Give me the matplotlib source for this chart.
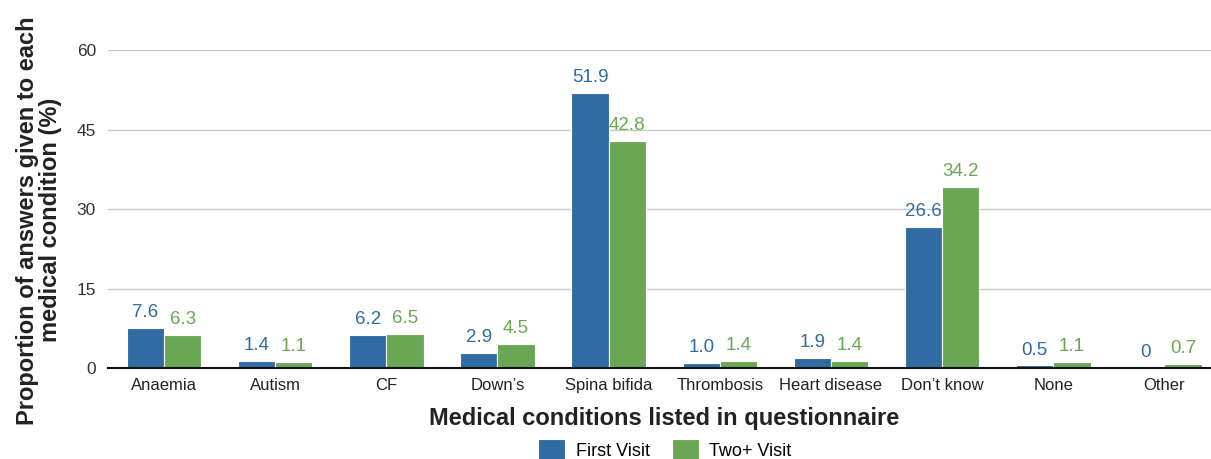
import matplotlib.pyplot as plt
import numpy as np

plt.rcParams['font.family'] = ['Liberation Sans', 'DejaVu Sans']

conditions = ['Anaemia', 'Autism', 'CF', 'Down’s', 'Spina bifida', 'Thrombosis',
              'Heart disease', 'Don’t know', 'None', 'Other']
first_visit = [7.6, 1.4, 6.2, 2.9, 51.9, 1.0, 1.9, 26.6, 0.5, 0]
two_plus_visit = [6.3, 1.1, 6.5, 4.5, 42.8, 1.4, 1.4, 34.2, 1.1, 0.7]
first_labels = ['7.6', '1.4', '6.2', '2.9', '51.9', '1.0', '1.9', '26.6', '0.5', '0']
two_labels = ['6.3', '1.1', '6.5', '4.5', '42.8', '1.4', '1.4', '34.2', '1.1', '0.7']

blue = '#306ba3'
green = '#6aa754'

fig = plt.figure(figsize=(12.11, 4.59), dpi=100)
ax = fig.add_axes([0.0895, 0.198, 0.918, 0.693])

x = np.arange(len(conditions))
w = 0.335
b1 = ax.bar(x - w / 2, first_visit, w, color=blue, edgecolor='white', linewidth=0.8,
            label='First Visit', zorder=3)
b2 = ax.bar(x + w / 2, two_plus_visit, w, color=green, edgecolor='white', linewidth=0.8,
            label='Two+ Visit', zorder=3)

ax.bar_label(b1, labels=first_labels, padding=5, color=blue, fontsize=13.5)
ax.bar_label(b2, labels=two_labels, padding=5, color=green, fontsize=13.5)

ax.set_xlim(-0.5, len(conditions) - 0.5)
ax.set_ylim(0, 60)
ax.set_yticks([0, 15, 30, 45, 60])
ax.set_xticks(x)
ax.set_xticklabels(conditions, fontsize=12, color='#222222')
ax.tick_params(axis='y', labelsize=12.5, colors='#333333', length=0, pad=9)
ax.tick_params(axis='x', length=0, pad=7)
ax.grid(axis='y', color='#c8c8c8', linewidth=1, zorder=0)
for s in ['top', 'right', 'left']:
    ax.spines[s].set_visible(False)
ax.spines['bottom'].set_color('#111111')
ax.spines['bottom'].set_linewidth(1.5)
ax.spines['bottom'].set_zorder(4)

ax.set_xlabel('Medical conditions listed in questionnaire', fontsize=17,
              fontweight='bold', color='#222222', labelpad=10)
ax.set_ylabel('Proportion of answers given to each\nmedical condition (%)', fontsize=17,
              fontweight='bold', color='#222222', linespacing=1.0)
ax.yaxis.set_label_coords(-0.042, 0.465)

fig.legend(handles=[b1, b2], loc='center', bbox_to_anchor=(0.549, 0.02), ncol=2,
           frameon=False, fontsize=13, handlelength=1.5, handleheight=1.5,
           columnspacing=1.2, handletextpad=0.6)

fig.savefig('out.png', dpi=100)
